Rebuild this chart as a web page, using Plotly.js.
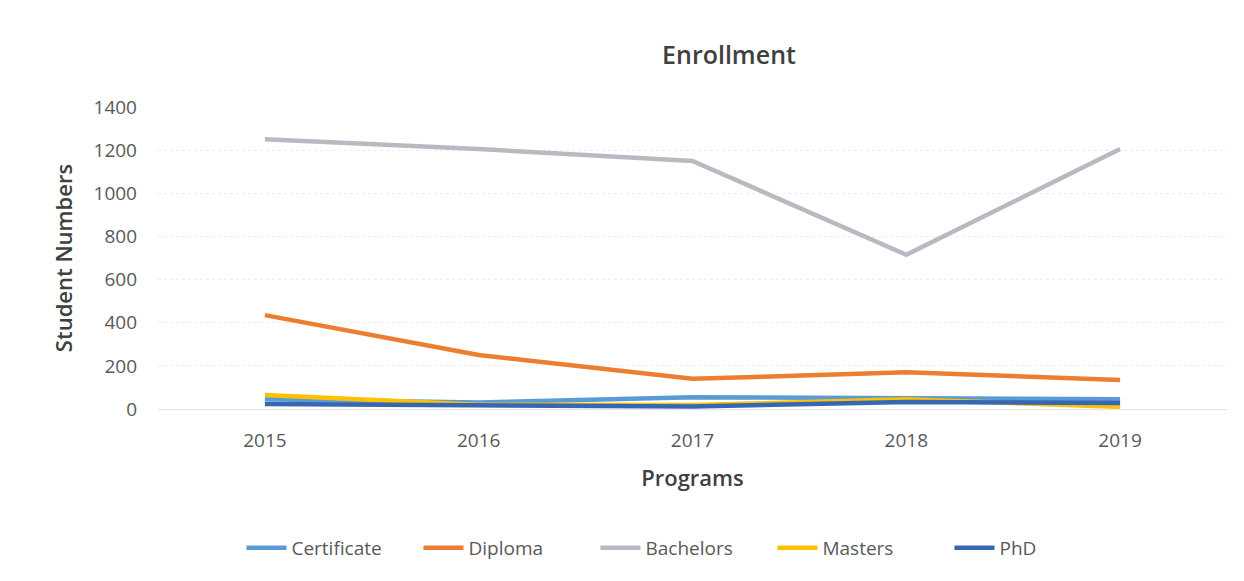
<!DOCTYPE html>
<html><head><meta charset="utf-8">
<script src="https://cdn.plot.ly/plotly-3.0.1.min.js"></script>
<style>html,body{margin:0;padding:0;background:#fff;}#chart{width:1244px;height:581px;}</style>
</head><body><div id="chart"></div>
<script>
const years = ["2015","2016","2017","2018","2019"];
const certificate = [45, 30, 55, 50, 45];
const diploma = [435, 250, 140, 170, 135];
const bachelors = [1250, 1205, 1150, 715, 1205];
const masters = [65, 20, 18, 45, 10];
const phd = [23, 20, 12, 32, 28];
const seriesNames = ["Certificate","Diploma","Bachelors","Masters","PhD"];
const seriesData = [certificate, diploma, bachelors, masters, phd];
const colors = ["#5B9BD5","#ED7D31","#B9B9C2","#FFC000","#3567B5"];
const font = "Open Sans, sans-serif";
const traces = seriesNames.map((n,i)=>({
  x: years, y: seriesData[i], name: n, type: "scatter", mode: "lines",
  line: {color: colors[i], width: 4.5}
}));
const layout = {
  width: 1244, height: 581,
  margin: {l:158, r:17, t:107, b:172},
  paper_bgcolor: "#fff", plot_bgcolor: "#fff",
  font: {family: font, color: "#595959", size: 19},
  title: {text: "Enrollment", font: {family: font, size: 25, color: "#404040", weight: 600}, x: 0.586, xanchor: "center", y: 0.905, yanchor: "middle"},
  xaxis: {type: "category", range: [-0.5, 4.5], showgrid: false, zeroline: false, showline: false, ticks: "",
    tickfont: {size: 19, color: "#595959"}, ticklabelstandoff: 18,
    title: {text: "Programs", font: {size: 22, color: "#404040", weight: 600}, standoff: 18}},
  yaxis: {range: [0, 1400], dtick: 200, showgrid: true, gridcolor: "#ececec", griddash: "dot", gridwidth: 1,
    zeroline: true, zerolinecolor: "#e4e4e4", zerolinewidth: 1, showline: false, ticks: "",
    tickfont: {size: 19, color: "#595959"}, ticklabelstandoff: 20,
    title: {text: "Student Numbers", font: {size: 22, color: "#404040", weight: 600}, standoff: 14}},
  showlegend: true,
  legend: {orientation: "h", x: 0.492, xanchor: "center", y: -0.46, yanchor: "middle",
    font: {size: 19, color: "#595959"}, itemwidth: 40, entrywidth: 122, entrywidthmode: "pixels", traceorder: "normal"}
};
Plotly.newPlot("chart", traces, layout, {displayModeBar: false, staticPlot: true});
</script></body></html>
